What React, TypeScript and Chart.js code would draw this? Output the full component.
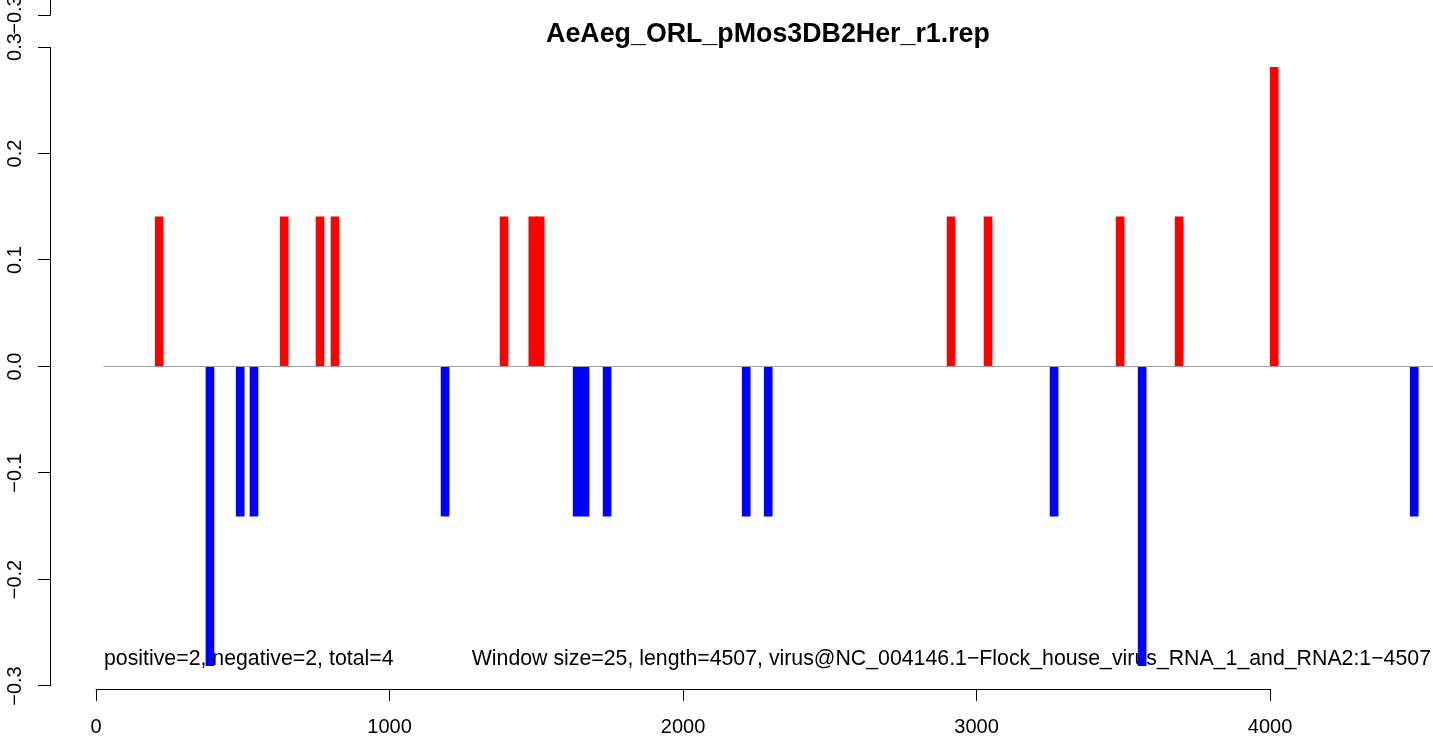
import React, { useEffect, useRef } from "react";
import { Chart, registerables } from "chart.js";

Chart.register(...registerables);

const FONT = '"Liberation Sans", Arial, Helvetica, sans-serif';

const titleText = "AeAeg_ORL_pMos3DB2Her_r1.rep";
const leftNote = "positive=2, negative=2, total=4";
const rightNote =
  "Window size=25, length=4507, virus@NC_004146.1\u2212Flock_house_virus_RNA_1_and_RNA2:1\u22124507";

const posPositions = [215, 641, 763, 814, 1390, 1488, 1513, 2913, 3039, 3489, 3690, 4014];
const posValues = [0.1405, 0.1405, 0.1405, 0.1405, 0.1405, 0.1405, 0.1405, 0.1405, 0.1405, 0.1405, 0.1405, 0.281];

const negPositions = [388, 491, 538, 1189, 1639, 1666, 1741, 2215, 2290, 3264, 3564, 4491];
const negValues = [-0.281, -0.1405, -0.1405, -0.1405, -0.1405, -0.1405, -0.1405, -0.1405, -0.1405, -0.1405, -0.281, -0.1405];

const zeroLineX = [25, 4600];

const xTicks = [0, 1000, 2000, 3000, 4000];
const yTicks = [-0.3, -0.2, -0.1, 0, 0.1, 0.2, 0.3];
const prevPanelTick = "\u22120.3";

function fmtY(v: number): string {
  const a = Math.abs(v).toFixed(1);
  return v < -1e-9 ? "\u2212" + a : a;
}

export default function App() {
  const ref = useRef<HTMLCanvasElement>(null);

  useEffect(() => {
    const canvas = ref.current!;
    const overlay = {
      id: "overlay",
      beforeDatasetsDraw(chart: any) {
        const ctx = chart.ctx;
        ctx.save();
        ctx.fillStyle = "#000";
        ctx.font = `21.3px ${FONT}`;
        ctx.textBaseline = "alphabetic";
        ctx.textAlign = "left";
        ctx.fillText(leftNote, 104, 665);
        ctx.textAlign = "right";
        ctx.fillText(rightNote, 1431, 665);
        ctx.restore();
      },
      afterDraw(chart: any) {
        const ctx = chart.ctx;
        const xs = chart.scales.x;
        const ys = chart.scales.y;
        const area = chart.chartArea;
        ctx.save();
        ctx.strokeStyle = "#000";
        ctx.lineWidth = 1;
        const ax = Math.round(area.left - 0.5) + 0.5;
        // y axis line
        ctx.beginPath();
        ctx.moveTo(ax, ys.getPixelForValue(0.3));
        ctx.lineTo(ax, ys.getPixelForValue(-0.3) + 0.5);
        ctx.stroke();
        // x axis line
        const ay = Math.round(area.bottom - 0.5) + 0.5;
        ctx.beginPath();
        ctx.moveTo(xs.getPixelForValue(0) - 0.5, ay);
        ctx.lineTo(xs.getPixelForValue(4000) + 0.5, ay);
        ctx.stroke();
        // remnant of the panel above
        ctx.beginPath();
        ctx.moveTo(ax, 0);
        ctx.lineTo(ax, 15.5);
        ctx.moveTo(ax - 12.5, 15.5);
        ctx.lineTo(ax, 15.5);
        ctx.stroke();
        ctx.translate(15, 15);
        ctx.rotate(-Math.PI / 2);
        ctx.fillStyle = "#000";
        ctx.font = `20px ${FONT}`;
        ctx.textAlign = "center";
        ctx.textBaseline = "middle";
        ctx.fillText(prevPanelTick, 0, 0);
        ctx.restore();
        // title
        ctx.save();
        ctx.fillStyle = "#000";
        ctx.font = `bold 26.8px ${FONT}`;
        ctx.textAlign = "center";
        ctx.textBaseline = "alphabetic";
        ctx.fillText(titleText, 768, 42);
        ctx.restore();
      },
    };

    const chart = new Chart(canvas, {
      type: "bar",
      data: {
        datasets: [
          {
            type: "line",
            data: zeroLineX.map((x) => ({ x, y: 0 })),
            borderColor: "#9e9e9e",
            borderWidth: 1.2,
            pointRadius: 0,
            order: 0,
          } as any,
          {
            type: "bar",
            data: posPositions.map((x, i) => ({ x, y: posValues[i] })),
            backgroundColor: "#ff0000",
            borderWidth: 0,
            barThickness: 8,
            grouped: false,
            order: 1,
          } as any,
          {
            type: "bar",
            data: negPositions.map((x, i) => ({ x, y: negValues[i] })),
            backgroundColor: "#0000ff",
            borderWidth: 0,
            barThickness: 8,
            grouped: false,
            order: 1,
          } as any,
        ],
      },
      options: {
        responsive: false,
        animation: false,
        layout: { padding: { top: 47, left: 0, right: 0, bottom: 0 } },
        plugins: {
          legend: { display: false },
          tooltip: { enabled: false },
          title: { display: false },
        },
        scales: {
          x: {
            type: "linear",
            min: -157,
            max: 4555,
            offset: false,
            afterBuildTicks: (s: any) => {
              s.ticks = xTicks.map((v) => ({ value: v }));
            },
            afterFit: (s: any) => {
              s.height = 51;
            },
            grid: {
              display: true,
              drawOnChartArea: false,
              drawTicks: true,
              tickLength: 12,
              tickColor: "#000",
              tickWidth: 1,
              offset: false,
            },
            border: { display: false },
            ticks: {
              color: "#000",
              font: { family: FONT, size: 20 },
              padding: 14,
              maxRotation: 0,
              autoSkip: false,
              callback: (v: any) => String(v),
            },
          },
          y: {
            type: "linear",
            min: -0.30282,
            max: 0.3,
            afterBuildTicks: (s: any) => {
              s.ticks = yTicks.map((v) => ({ value: v }));
            },
            afterFit: (s: any) => {
              s.width = 50;
            },
            grid: {
              display: true,
              drawOnChartArea: false,
              drawTicks: true,
              tickLength: 12,
              tickColor: "#000",
              tickWidth: 1,
            },
            border: { display: false },
            ticks: {
              color: "#000",
              font: { family: FONT, size: 20 },
              padding: 3,
              minRotation: 90,
              maxRotation: 90,
              crossAlign: "center",
              autoSkip: false,
              callback: (v: any) => fmtY(Number(v)),
            },
          },
        },
      } as any,
      plugins: [overlay],
    });
    return () => chart.destroy();
  }, []);

  return (
    <div style={{ position: "absolute", left: 0, top: 0, width: 1433, height: 740, background: "#fff" }}>
      <canvas ref={ref} width={1433} height={740} style={{ display: "block" }} />
    </div>
  );
}
